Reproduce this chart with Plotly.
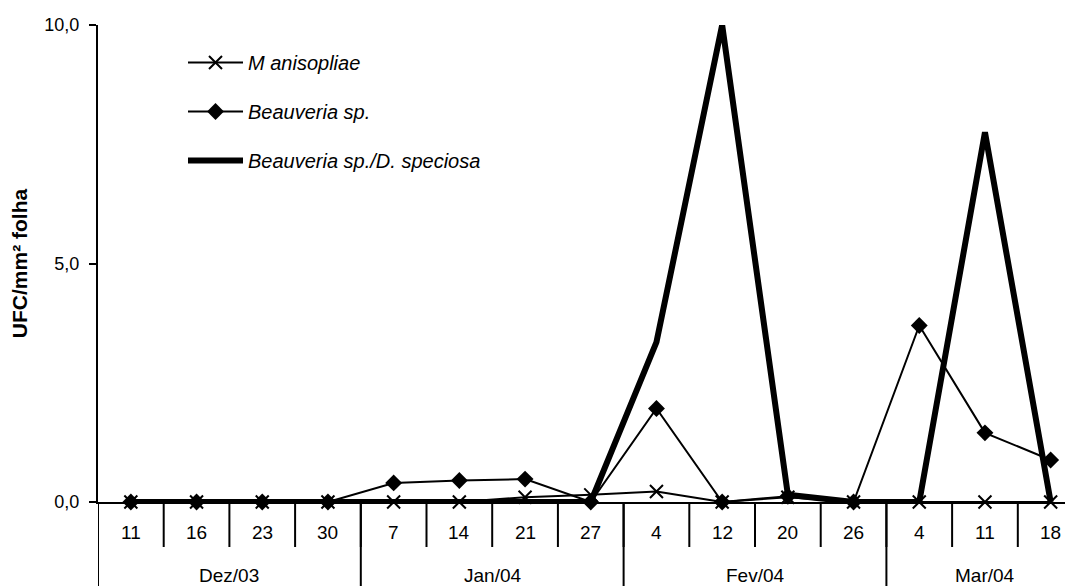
import plotly.graph_objects as go

# ---- data ----
days = ["11", "16", "23", "30", "7", "14", "21", "27", "4", "12", "20", "26", "4", "11", "18"]
months = ["Dez/03", "Jan/04", "Fev/04", "Mar/04"]
month_counts = [4, 4, 4, 3]

m_anisopliae = [0, 0, 0, 0, 0, 0, 0.10, 0.15, 0.22, 0, 0.10, 0, 0, 0, 0]
beauveria = [0, 0, 0, 0, 0.40, 0.45, 0.48, 0, 1.96, 0, 0.12, 0, 3.70, 1.45, 0.88]
beauveria_ds = [0, 0, 0, 0, 0, 0, 0, 0, 3.35, 10.0, 0.15, 0, 0, 7.75, 0]

series_names = ["M anisopliae", "Beauveria sp.", "Beauveria sp./D. speciosa"]
y_ticks = [0, 5, 10]

FONT = "Liberation Sans, Arial, sans-serif"
idx = list(range(len(days)))

fig = go.Figure()
fig.add_trace(go.Scatter(
    x=idx, y=beauveria_ds, name=series_names[2], mode="lines",
    line=dict(color="black", width=6), cliponaxis=False,
    legendgroup="c", legendrank=3))
fig.add_trace(go.Scatter(
    x=idx, y=beauveria, name=series_names[1], mode="lines+markers",
    line=dict(color="black", width=2),
    marker=dict(symbol="diamond", size=13, color="black"),
    cliponaxis=False, legendgroup="b", legendrank=2))
fig.add_trace(go.Scatter(
    x=idx, y=m_anisopliae, name=series_names[0], mode="lines+markers",
    line=dict(color="black", width=2),
    marker=dict(symbol="x-thin-open", size=13, color="black",
                line=dict(color="black", width=2)),
    cliponaxis=False, legendgroup="a", legendrank=1))

W, H = 1065, 578          # page adds an 8px body margin
M_L, M_R, M_T, M_B = 90, 0, 17, 84
plot_h = H - M_T - M_B
plot_w = W - M_L - M_R

shapes = []
# inner (day) separators
for i in range(len(days) - 1):
    shapes.append(dict(type="line", xref="x", yref="paper",
                       x0=i + 0.5, x1=i + 0.5, y0=0, y1=-45 / plot_h,
                       line=dict(color="black", width=2)))
# month dividers (including left edge)
bounds = [-0.5]
acc = -0.5
for c in month_counts:
    acc += c
    bounds.append(acc)
for b in bounds[:-1]:
    shapes.append(dict(type="line", xref="x", yref="paper",
                       x0=b, x1=b, y0=0, y1=-100 / plot_h,
                       line=dict(color="black", width=2)))

annotations = []
for i, d in enumerate(days):
    annotations.append(dict(x=i, y=0, xref="x", yref="paper", text=d,
                            showarrow=False, yanchor="middle", yshift=-30,
                            font=dict(family=FONT, size=19, color="black")))
start = 0
for m, c in zip(months, month_counts):
    annotations.append(dict(x=start + (c - 1) / 2, y=0, xref="x", yref="paper",
                            text=m, showarrow=False, yanchor="middle", yshift=-73,
                            font=dict(family=FONT, size=19, color="black")))
    start += c

fig.update_layout(
    width=W, height=H,
    margin=dict(l=M_L, r=M_R, t=M_T, b=M_B),
    paper_bgcolor="white", plot_bgcolor="white",
    separators=",.",
    font=dict(family=FONT, size=18, color="black"),
    showlegend=True,
    legend=dict(x=(183 - 98) / plot_w, y=1 - 18 / plot_h,
                xanchor="left", yanchor="top",
                bgcolor="rgba(0,0,0,0)", borderwidth=0,
                itemwidth=55, tracegroupgap=20,
                font=dict(family=FONT, size=20, color="black", style="italic")),
    xaxis=dict(range=[-0.5, 14.34], showgrid=False, zeroline=False,
               showline=True, linecolor="black", linewidth=2,
               showticklabels=False, ticks=""),
    yaxis=dict(range=[0, 10], tickvals=y_ticks, tickformat=".1f",
               showgrid=False, zeroline=False, showline=True,
               linecolor="black", linewidth=2, ticks="outside",
               ticklen=7, tickwidth=2, tickcolor="black",
               ticklabelstandoff=6,
               tickfont=dict(family=FONT, size=18, color="black"),
               title=dict(text="UFC/mm² folha", standoff=12,
                          font=dict(family=FONT, size=21, color="black",
                                    weight="bold"))),
    shapes=shapes, annotations=annotations,
)

fig.write_html("out.html")
